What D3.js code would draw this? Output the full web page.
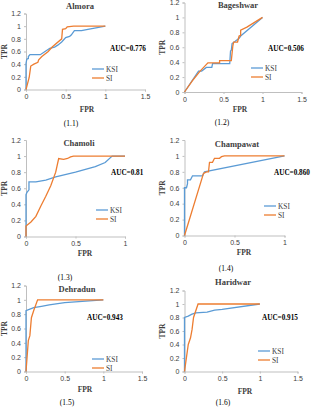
<!DOCTYPE html>
<html>
<head>
<meta charset="utf-8">
<script src="https://cdn.jsdelivr.net/npm/d3@7"></script>
<style>
  body { margin: 0; background: #fff; }
  svg { display: block; font-family: "Liberation Serif", "Times New Roman", serif; }
  .tick text { font-size: 7px; fill: #404040; }
  .domain, .tick line { stroke: #bfbfbf; }
</style>
</head>
<body>
<div class="container"></div>
<script>
const width = 313,
    height = 407;

// ROC points [FPR, TPR]
const almoraKSI = [[0,0],[0,0.41],[0.01,0.48],[0.03,0.49],[0.03,0.52],[0.05,0.55],[0.18,0.55],[0.24,0.6],[0.3,0.65],[0.36,0.67],[0.4,0.7],[0.45,0.75],[0.5,0.82],[0.55,0.84],[0.57,0.86],[0.61,0.93],[0.7,0.93],[0.78,0.95],[1,1]];
const almoraSI = [[0,0],[0.04,0.19],[0.06,0.37],[0.1,0.4],[0.15,0.43],[0.16,0.47],[0.2,0.52],[0.28,0.6],[0.33,0.67],[0.45,0.8],[0.46,0.95],[0.5,0.96],[0.52,0.99],[0.6,1],[1,1]];
const bageshwarKSI = [[0,0],[0.18,0.28],[0.22,0.28],[0.28,0.33],[0.35,0.33],[0.36,0.38],[0.58,0.38],[0.59,0.55],[0.6,0.56],[0.61,0.65],[0.65,0.68],[0.7,0.72],[0.72,0.75],[1,1]];
const bageshwarSI = [[0,0],[0.1,0.15],[0.2,0.28],[0.3,0.39],[0.45,0.39],[0.45,0.42],[0.6,0.42],[0.62,0.62],[0.63,0.67],[0.68,0.67],[0.7,0.75],[0.72,0.76],[0.72,0.83],[0.8,0.87],[1,1]];
const chamoliKSI = [[0,0],[0,0.52],[0.01,0.55],[0.03,0.58],[0.03,0.68],[0.1,0.68],[0.2,0.7],[0.3,0.74],[0.5,0.8],[0.7,0.87],[0.8,0.92],[0.87,1],[1,1]];
const chamoliSI = [[0,0],[0,0.13],[0.05,0.18],[0.1,0.25],[0.15,0.38],[0.2,0.5],[0.25,0.63],[0.3,0.8],[0.33,0.97],[0.38,0.96],[0.42,0.97],[0.45,0.99],[0.48,1],[1,1]];
const champawatKSI = [[0,0],[0,0.6],[0.02,0.6],[0.03,0.65],[0.03,0.7],[0.06,0.7],[0.08,0.75],[0.18,0.75],[0.2,0.8],[1,1]];
const champawatSI = [[0,0],[0.19,0.78],[0.22,0.8],[0.24,0.8],[0.25,0.92],[0.28,0.92],[0.3,0.97],[0.35,0.97],[0.37,0.99],[0.4,1],[1,1]];
const dehradunKSI = [[0,0],[0,0.85],[0.05,0.87],[0.1,0.89],[0.2,0.91],[0.3,0.93],[0.5,0.96],[1,1]];
const dehradunSI = [[0,0],[0.03,0.43],[0.05,0.5],[0.07,0.75],[0.1,0.85],[0.15,1],[1,1]];
const haridwarKSI = [[0,0],[0,0.8],[0.05,0.82],[0.1,0.85],[0.15,0.87],[0.3,0.88],[0.4,0.91],[0.5,0.92],[1,1]];
const haridwarSI = [[0,0],[0.05,0.4],[0.08,0.5],[0.1,0.62],[0.12,0.8],[0.18,1],[1,1]];

const districts = ["Almora", "Bageshwar", "Chamoli", "Champawat", "Dehradun", "Haridwar"];
const aucLabels = ["AUC=0.776", "AUC=0.506", "AUC=0.81", "AUC=0.860", "AUC=0.943", "AUC=0.915"];
const captions = ["(1.1)", "(1.2)", "(1.3)", "(1.4)", "(1.5)", "(1.6)"];
const seriesNames = ["KSI", "SI"];
const yTicks = [0, 0.2, 0.4, 0.6, 0.8, 1, 1.2];
const xTicksWide = [0, 0.5, 1, 1.5];
const xTicksNarrow = [0, 0.5, 1];
const ksiData = [almoraKSI, bageshwarKSI, chamoliKSI, champawatKSI, dehradunKSI, haridwarKSI];
const siData = [almoraSI, bageshwarSI, chamoliSI, champawatSI, dehradunSI, haridwarSI];
const colors = ["#5b9bd5", "#ed7d31"];

// panel geometry (pixels)
const layout = [
  {x0: 26, x1: 145, xMax: 1.5, yTop: 13.5, yBot: 89.5, title: [80, 9], auc: [110, 51], leg: [92, 69], fpr: [87, 112], cap: [71, 126], tpr: 7},
  {x0: 184.5, x1: 301.5, xMax: 1.5, yTop: 2.5, yBot: 92, title: [238, 8], auc: [268, 51], leg: [251, 68], fpr: [240, 112], cap: [222, 125], tpr: 165},
  {x0: 26, x1: 125, xMax: 1, yTop: 140, yBot: 236.5, title: [79, 146], auc: [111, 175], leg: [96, 210], fpr: [85, 256], cap: [65, 280], tpr: 7},
  {x0: 184.5, x1: 284.5, xMax: 1, yTop: 140, yBot: 235.5, title: [237, 147], auc: [274, 175], leg: [264, 206], fpr: [244, 255], cap: [226, 271], tpr: 165},
  {x0: 26, x1: 142, xMax: 1.5, yTop: 285.5, yBot: 371.5, title: [77, 292], auc: [87, 320], leg: [92, 359], fpr: [85, 392], cap: [67, 405], tpr: 7},
  {x0: 184.5, x1: 297.5, xMax: 1.5, yTop: 290.5, yBot: 371.5, title: [233, 285], auc: [262, 320], leg: [258, 351], fpr: [245, 394], cap: [223, 405], tpr: 165}
];

const svg = d3.select('.container')
  .append('svg')
  .attr('width', width)
  .attr('height', height);

const drawPanel = (i) => {
  const p = layout[i];
  const g = svg.append('g');
  const xScale = d3.scaleLinear().domain([0, p.xMax]).range([p.x0, p.x1]);
  const yScale = d3.scaleLinear().domain([0, 1.2]).range([p.yBot, p.yTop]);

  g.append('g')
    .attr('transform', `translate(0, ${p.yBot})`)
    .call(d3.axisBottom(xScale)
      .tickValues(p.xMax > 1 ? xTicksWide : xTicksNarrow)
      .tickFormat(d3.format('')).tickSizeOuter(0).tickSize(2).tickPadding(3));

  g.append('g')
    .attr('transform', `translate(${p.x0}, 0)`)
    .call(d3.axisLeft(yScale)
      .tickValues(yTicks)
      .tickFormat(d3.format('')).tickSizeOuter(0).tickSize(2).tickPadding(3));

  const line = d3.line()
    .x(d => xScale(d[0]))
    .y(d => yScale(d[1]));

  [ksiData[i], siData[i]].forEach((data, k) => {
    g.append('path')
      .datum(data)
      .attr('fill', 'none')
      .attr('stroke', colors[k])
      .attr('stroke-width', 1.3)
      .attr('d', line);
  });

  g.append('text')
    .attr('x', p.title[0]).attr('y', p.title[1])
    .attr('text-anchor', 'middle')
    .attr('font-size', 8.5).attr('font-weight', 'bold').attr('fill', '#404040')
    .text(districts[i]);

  g.append('text')
    .attr('x', p.auc[0]).attr('y', p.auc[1])
    .attr('font-size', 7.2).attr('font-weight', 'bold').attr('fill', '#000')
    .text(aucLabels[i]);

  seriesNames.forEach((name, k) => {
    const ly = p.leg[1] + k * 9;
    g.append('line')
      .attr('x1', p.leg[0]).attr('x2', p.leg[0] + 12)
      .attr('y1', ly).attr('y2', ly)
      .attr('stroke', colors[k]).attr('stroke-width', 1.3);
    g.append('text')
      .attr('x', p.leg[0] + 14).attr('y', ly + 2.5)
      .attr('font-size', 7.4).attr('fill', '#404040')
      .text(name);
  });

  g.append('text')
    .attr('x', p.fpr[0]).attr('y', p.fpr[1])
    .attr('text-anchor', 'middle')
    .attr('font-size', 7.5).attr('font-weight', 'bold').attr('fill', '#404040')
    .text("FPR");

  const midY = (p.yTop + p.yBot) / 2;
  g.append('text')
    .attr('transform', `translate(${p.tpr}, ${midY}) rotate(-90)`)
    .attr('text-anchor', 'middle')
    .attr('font-size', 7.5).attr('font-weight', 'bold').attr('fill', '#404040')
    .text("TPR");

  g.append('text')
    .attr('x', p.cap[0]).attr('y', p.cap[1])
    .attr('text-anchor', 'middle')
    .attr('font-size', 7.5).attr('fill', '#000')
    .text(captions[i]);
};

districts.forEach((d, i) => drawPanel(i));
</script>
</body>
</html>
